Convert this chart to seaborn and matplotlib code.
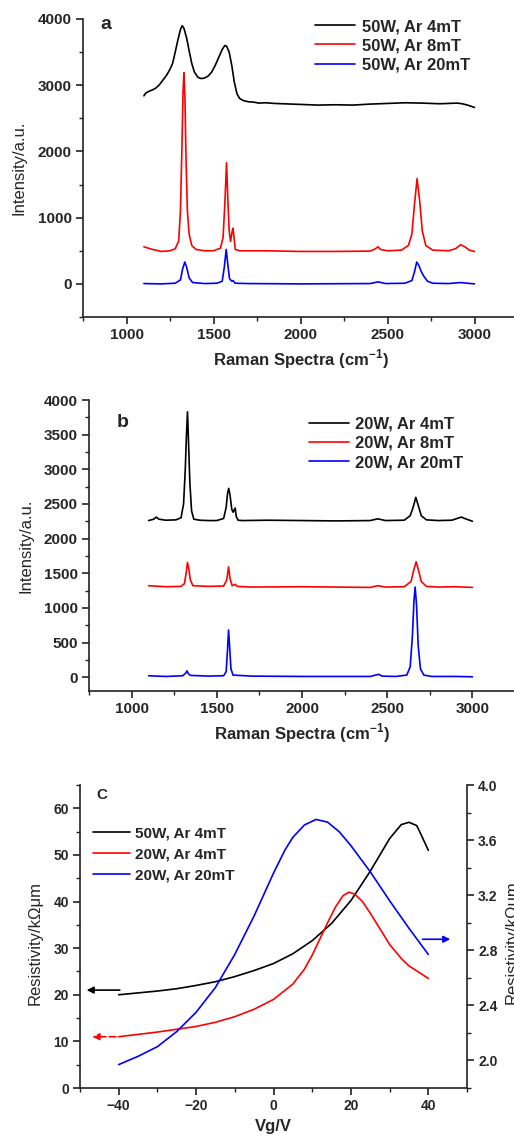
import matplotlib
matplotlib.use("Agg")
import matplotlib.pyplot as plt
from matplotlib.ticker import MultipleLocator
import pandas as pd
import seaborn as sns

# ---- panel a: Raman spectra, 50W ----
a_labels = ["50W, Ar 4mT", "50W, Ar 8mT", "50W, Ar 20mT"]
a_black_x = [1100, 1110, 1130, 1150, 1170, 1190, 1210, 1230, 1250, 1265, 1280, 1295, 1310, 1320, 1330,
             1345, 1360, 1375, 1390, 1410, 1430, 1450, 1470, 1490, 1510, 1530, 1550, 1565, 1575, 1590,
             1605, 1620, 1635, 1650, 1670, 1700, 1730, 1760, 1800, 1850, 1900, 1950, 2000, 2100, 2200,
             2300, 2400, 2500, 2600, 2700, 2800, 2850, 2900, 2930, 2960, 3000]
a_black_y = [2840, 2880, 2910, 2930, 2960, 3010, 3080, 3150, 3240, 3330, 3500, 3680, 3840, 3900, 3860,
             3720, 3520, 3330, 3200, 3120, 3100, 3110, 3140, 3200, 3300, 3420, 3540, 3600, 3590, 3500,
             3300, 3040, 2870, 2800, 2770, 2750, 2745, 2730, 2735, 2725, 2720, 2715, 2710, 2700, 2705,
             2700, 2715, 2725, 2735, 2730, 2720, 2725, 2730, 2720, 2700, 2665]
a_red_x = [1100, 1150, 1200, 1250, 1280, 1300, 1310, 1318, 1325, 1330, 1336, 1342, 1350, 1360, 1375,
           1400, 1450, 1500, 1540, 1555, 1565, 1575, 1582, 1590, 1598, 1606, 1612, 1618, 1625, 1650,
           1800, 2000, 2200, 2400, 2430, 2445, 2460, 2500, 2580, 2620, 2640, 2655, 2670, 2685, 2700,
           2720, 2760, 2850, 2890, 2920, 2945, 2970, 3000]
a_red_y = [560, 520, 490, 500, 530, 650, 1100, 2000, 2900, 3190, 2800, 1900, 1100, 750, 580,
           520, 500, 500, 540, 700, 1200, 1830, 1300, 800, 640, 780, 840, 700, 520, 500,
           500, 490, 490, 495, 530, 560, 520, 500, 510, 580, 750, 1200, 1590, 1250, 800,
           580, 510, 500, 530, 590, 560, 510, 490]
a_blue_x = [1100, 1200, 1280, 1310, 1322, 1335, 1345, 1360, 1380, 1450, 1520, 1550, 1562, 1573, 1582,
            1592, 1605, 1612, 1625, 1700, 2000, 2400, 2445, 2490, 2600, 2640, 2655, 2668, 2680, 2695,
            2710, 2730, 2760, 2850, 2920, 2960, 3000]
a_blue_y = [5, 0, 10, 60, 220, 330, 260, 90, 20, 5, 10, 40, 250, 520, 300,
            80, 40, 50, 10, 5, 0, 5, 30, 5, 10, 50, 180, 330, 280, 180,
            110, 40, 10, 5, 20, 10, 0]

# ---- panel b: Raman spectra, 20W ----
b_labels = ["20W, Ar 4mT", "20W, Ar 8mT", "20W, Ar 20mT"]
b_black_x = [1100, 1130, 1145, 1160, 1200, 1260, 1290, 1305, 1315, 1322, 1328, 1334, 1342, 1352, 1365,
             1400, 1450, 1500, 1540, 1555, 1563, 1570, 1578, 1588, 1596, 1603, 1608, 1614, 1625, 1650,
             1800, 2000, 2200, 2400, 2445, 2490, 2600, 2635, 2652, 2668, 2682, 2700, 2730, 2800, 2880,
             2910, 2935, 2960, 3000]
b_black_y = [2260, 2280, 2310, 2280, 2265, 2270, 2300, 2500, 3000, 3500, 3830, 3400, 2800, 2400, 2280,
             2265, 2260, 2260, 2290, 2450, 2650, 2725, 2620, 2420, 2380, 2420, 2440, 2320, 2265, 2260,
             2265, 2260, 2255, 2260, 2285, 2260, 2265, 2330, 2450, 2595, 2480, 2330, 2270, 2260, 2265,
             2290, 2310, 2285, 2250]
b_red_x = [1100, 1200, 1290, 1310, 1320, 1328, 1336, 1345, 1360, 1450, 1540, 1558, 1569, 1578, 1590,
           1608, 1620, 1700, 2000, 2400, 2445, 2490, 2600, 2640, 2655, 2670, 2685, 2700, 2730, 2800,
           2900, 3000]
b_red_y = [1320, 1305, 1310, 1350, 1500, 1655, 1560, 1400, 1320, 1310, 1315, 1400, 1590, 1420, 1320,
           1340, 1310, 1300, 1305, 1295, 1320, 1300, 1305, 1380, 1540, 1665, 1530, 1380, 1310, 1300,
           1305, 1295]
b_blue_x = [1100, 1200, 1300, 1318, 1325, 1333, 1345, 1450, 1540, 1555, 1563, 1569, 1575, 1583, 1595,
            1700, 2000, 2400, 2440, 2450, 2470, 2550, 2615, 2635, 2648, 2657, 2664, 2672, 2682, 2695,
            2715, 2760, 2900, 3000]
b_blue_y = [20, 10, 20, 60, 90, 50, 25, 15, 20, 80, 400, 680, 450, 120, 30,
            15, 10, 10, 35, 40, 15, 10, 30, 150, 600, 1100, 1300, 1050, 450, 120,
            30, 10, 10, 5]

# ---- panel c: resistivity vs gate voltage ----
c_labels = ["50W, Ar 4mT", "20W, Ar 4mT", "20W, Ar 20mT"]
c_black_vg = [-40, -35, -30, -25, -20, -15, -10, -5, 0, 5, 10, 15, 20, 25, 30, 33, 35, 37, 38, 40]
c_black_r = [20, 20.4, 20.8, 21.3, 22, 22.8, 23.9, 25.2, 26.7, 28.8, 31.6, 35.3, 40.2, 46.5, 53.5,
             56.5, 57, 56.3, 54.6, 51]
c_red_vg = [-40, -35, -30, -25, -20, -15, -10, -5, 0, 5, 8, 10, 12, 14, 16, 18, 19.5, 21, 23, 25,
            28, 30, 33, 35, 38, 40]
c_red_r = [11, 11.5, 12, 12.6, 13.2, 14.1, 15.3, 16.9, 19, 22.3, 25.5, 28.5, 32, 35.5, 38.8, 41.3,
           42, 41.6, 40, 37.5, 33.5, 30.8, 27.8, 26.2, 24.6, 23.5]
c_blue_vg = [-40, -35, -30, -25, -20, -15, -10, -5, 0, 3, 5, 8, 11, 14, 17, 20, 25, 30, 35, 40]
c_blue_r = [1.97, 2.03, 2.10, 2.21, 2.35, 2.53, 2.77, 3.05, 3.36, 3.53, 3.62, 3.71, 3.75, 3.73, 3.66,
            3.56, 3.37, 3.16, 2.96, 2.77]

colors = ["#000000", "#ff0000", "#0000ff"]

sns.set_style("ticks")
plt.rcParams['font.family'] = ['Liberation Sans', 'DejaVu Sans']
plt.rcParams['mathtext.fontset'] = 'custom'
plt.rcParams['mathtext.rm'] = 'Liberation Sans'
plt.rcParams['mathtext.bf'] = 'Liberation Sans:bold'
plt.rcParams['axes.edgecolor'] = '#222222'
plt.rcParams['axes.linewidth'] = 1.2

W, H = 514, 1140
fig = plt.figure(figsize=(W / 100, H / 100), dpi=100)


def px_axes(left, top, right, bottom):
    return fig.add_axes([left / W, 1 - bottom / H, (right - left) / W, (bottom - top) / H])


def style_axis(ax, size):
    ax.tick_params(axis='both', which='major', direction='out', length=5, width=1.2,
                   labelsize=size, pad=3, color='#222222')
    ax.tick_params(axis='both', which='minor', direction='out', length=3, width=1.0, color='#222222')
    for lab in ax.get_xticklabels() + ax.get_yticklabels():
        lab.set_fontweight('bold')


def spectra_panel(ax, series, labels, ylim, ymajor, yminor, letter, letter_xy, leg_xy):
    for (xs, ys), lab, col in zip(series, labels, colors):
        df = pd.DataFrame({'shift': xs, 'intensity': ys})
        sns.lineplot(data=df, x='shift', y='intensity', ax=ax, color=col, lw=1.2,
                     label=lab, legend=False)
    ax.set_xlim(750, 3250)
    ax.set_ylim(*ylim)
    ax.xaxis.set_major_locator(MultipleLocator(500))
    ax.xaxis.set_minor_locator(MultipleLocator(250))
    ax.yaxis.set_major_locator(MultipleLocator(ymajor))
    ax.yaxis.set_minor_locator(MultipleLocator(yminor))
    sns.despine(ax=ax)
    style_axis(ax, 11)
    ax.set_xlabel(r"Raman Spectra (cm$^{\mathbf{-1}}$)", fontsize=12, fontweight='bold', labelpad=4)
    ax.set_ylabel("Intensity/a.u.", fontsize=12)
    ax.yaxis.set_label_coords(-0.131, 0.5)
    ax.text(letter_xy[0], letter_xy[1], letter, transform=ax.transAxes, fontsize=14,
            fontweight='bold', ha='center', va='center')
    ax.legend(loc='upper left', bbox_to_anchor=leg_xy, frameon=False, borderpad=0,
              borderaxespad=0, handlelength=2.4, handletextpad=0.4, labelspacing=0.26,
              prop={'weight': 'bold', 'size': 12})


# panel a
ax_a = px_axes(83, 19, 518, 317)
spectra_panel(ax_a, [(a_black_x, a_black_y), (a_red_x, a_red_y), (a_blue_x, a_blue_y)], a_labels,
              (-500, 4000), 1000, 500, "a", (0.053, 0.98), (0.533, 1.0))

# panel b
ax_b = px_axes(89, 400, 515, 691)
spectra_panel(ax_b, [(b_black_x, b_black_y), (b_red_x, b_red_y), (b_blue_x, b_blue_y)], b_labels,
              (-200, 4000), 500, 250, "b", (0.08, 0.921), (0.516, 0.943))

# panel c
ax_c = px_axes(80, 785, 467, 1088)
ax_r = ax_c.twinx()
sns.lineplot(x=c_black_vg, y=c_black_r, ax=ax_c, color=colors[0], lw=1.2, label=c_labels[0], legend=False)
sns.lineplot(x=c_red_vg, y=c_red_r, ax=ax_c, color=colors[1], lw=1.2, label=c_labels[1], legend=False)
sns.lineplot(x=c_blue_vg, y=c_blue_r, ax=ax_r, color=colors[2], lw=1.2, label=c_labels[2], legend=False)

ax_c.set_xlim(-50, 50)
ax_c.set_ylim(0, 65)
ax_r.set_ylim(1.8, 4.0)
ax_c.xaxis.set_major_locator(MultipleLocator(20))
ax_c.xaxis.set_minor_locator(MultipleLocator(10))
ax_c.yaxis.set_major_locator(MultipleLocator(10))
ax_c.yaxis.set_minor_locator(MultipleLocator(5))
ax_r.yaxis.set_major_locator(MultipleLocator(0.4))
ax_r.yaxis.set_minor_locator(MultipleLocator(0.2))
ax_r.yaxis.set_major_formatter(matplotlib.ticker.FormatStrFormatter('%.1f'))
for s in ['top', 'right']:
    ax_c.spines[s].set_visible(False)
for s in ['top', 'left', 'bottom']:
    ax_r.spines[s].set_visible(False)
style_axis(ax_c, 10)
style_axis(ax_r, 10)
ax_c.set_xlabel("Vg/V", fontsize=12, fontweight='bold', labelpad=4)
ax_c.set_ylabel("Resistivity/k\u03a9\u03bcm", fontsize=12)
ax_c.yaxis.set_label_coords(-0.096, 0.48)
ax_r.set_ylabel("Resistivity/k\u03a9um", fontsize=12)
ax_r.yaxis.set_label_coords(1.098, 0.48)
ax_c.text(0.057, 0.967, "C", transform=ax_c.transAxes, fontsize=11, fontweight='bold',
          ha='center', va='center')

h1, l1 = ax_c.get_legend_handles_labels()
h2, l2 = ax_r.get_legend_handles_labels()
ax_r.legend(h1 + h2, l1 + l2, loc='upper left', bbox_to_anchor=(0.034, 0.862), frameon=False,
            borderpad=0, borderaxespad=0, handlelength=2.4, handletextpad=0.35, labelspacing=0.45,
            prop={'weight': 'bold', 'size': 11})

# arrows pointing to the matching axis
ax_c.annotate('', xy=(-49, 21), xytext=(-39, 21),
              arrowprops=dict(arrowstyle='-|>', color='black', lw=1.2, mutation_scale=10),
              annotation_clip=False)
ax_c.annotate('', xy=(-47.5, 11), xytext=(-40, 11),
              arrowprops=dict(arrowstyle='-|>', color='red', lw=1.2, mutation_scale=10,
                              linestyle=(0, (4, 2))),
              annotation_clip=False)
ax_r.annotate('', xy=(46.4, 2.88), xytext=(37.8, 2.88),
              arrowprops=dict(arrowstyle='-|>', color='blue', lw=1.2, mutation_scale=10),
              annotation_clip=False)

fig.savefig("out.png", dpi=100)
